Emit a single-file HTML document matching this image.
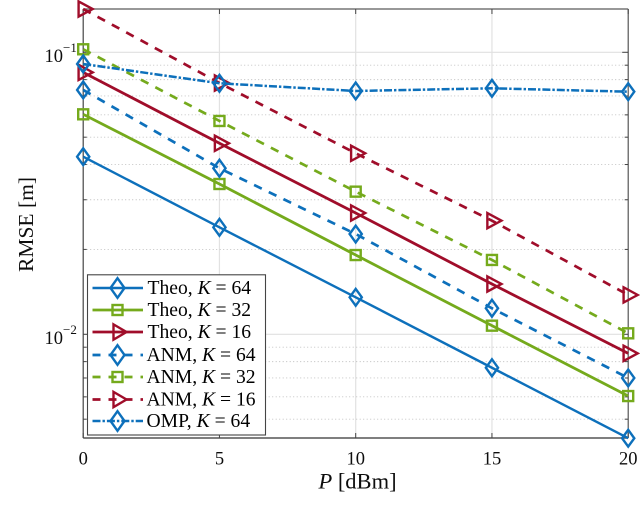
<!DOCTYPE html>
<html>
<head>
<meta charset="utf-8">
<style>
html,body{margin:0;padding:0;background:#fff;width:640px;height:519px;overflow:hidden}
svg{display:block;font-family:"Liberation Serif",serif;fill:#111}
text{stroke:none}
</style>
</head>
<body>
<svg id="chart" width="640" height="519" viewBox="0 0 640 519" xmlns="http://www.w3.org/2000/svg">
<defs><filter id="soft" x="-5%" y="-5%" width="110%" height="110%"><feGaussianBlur stdDeviation="0.22"/></filter></defs>
<g id="root" filter="url(#soft)"></g>
</svg>
<script>
const powerTicks = [0, 5, 10, 15, 20];
const powers = [0, 5, 10, 15, 20];
const theo64 = [0.04264, 0.02395, 0.01353, 0.00761, 0.00428];
const theo32 = [0.06027, 0.03412, 0.0191, 0.01073, 0.00604];
const theo16 = [0.0849, 0.04757, 0.02693, 0.01508, 0.00856];
const anm64 = [0.07352, 0.0388, 0.02268, 0.01237, 0.0070];
const anm32 = [0.1025, 0.05708, 0.03205, 0.01835, 0.01008];
const anm16 = [0.1424, 0.07783, 0.04384, 0.02529, 0.01379];
const omp64 = [0.0909, 0.07764, 0.07292, 0.07453, 0.0725];
const legendNames = ["Theo", "Theo", "Theo", "ANM", "ANM", "ANM", "OMP"];
const legendK = ["64", "32", "16", "64", "32", "16", "64"];
const yMajorExponents = [-1, -2];
const yMinorMultipliers = [2, 3, 4, 5, 6, 7, 8, 9];

const NS = "http://www.w3.org/2000/svg";
const root = document.getElementById("root");
const BLUE = "#0b6fbb", GREEN = "#74aa1e", RED = "#a0112c";
const left = 83.2, right = 628.2, top_ = 9, bottom = 438;

function xScale(v) { return left + (v / 20) * (right - left); }
function yScale(v) { return 52.3 + (-1 - Math.log10(v)) * 282; }

function el(tag, attrs, parent) {
  const e = document.createElementNS(NS, tag);
  for (const k in attrs) e.setAttribute(k, attrs[k]);
  (parent || root).appendChild(e);
  return e;
}

// grid
const grid = el("g", {});


powerTicks.forEach(t => {
  if (t > 0 && t < 20) el("line", {x1: xScale(t), x2: xScale(t), y1: top_, y2: bottom, stroke: "#e2e2e2", "stroke-width": 1.2}, grid);
});
const minorValues = [];
[-3, -2, -1].forEach(e => yMinorMultipliers.forEach(m => {
  const v = m * Math.pow(10, e);
  const y = yScale(v);
  if (y > top_ && y < bottom) minorValues.push(v);
}));
minorValues.forEach(v => {
  el("line", {x1: left, x2: right, y1: yScale(v), y2: yScale(v), stroke: "#bcbcbc", "stroke-width": 0.9, "stroke-dasharray": "1 2.5"}, grid);
});
yMajorExponents.forEach(e => {
  const y = yScale(Math.pow(10, e));
  el("line", {x1: left, x2: right, y1: y, y2: y, stroke: "#e0e0e0", "stroke-width": 1.2}, grid);
});

// axes box
const axes = el("g", {});


el("line", {x1: left, x2: right, y1: top_, y2: top_, stroke: "#777", "stroke-width": 1.4}, axes);
el("line", {x1: left, x2: right, y1: bottom, y2: bottom, stroke: "#555", "stroke-width": 1.4}, axes);
el("line", {x1: left, x2: left, y1: top_, y2: bottom, stroke: "#444", "stroke-width": 1.2}, axes);
el("line", {x1: right, x2: right, y1: top_, y2: bottom, stroke: "#555", "stroke-width": 1.2}, axes);

// ticks
powerTicks.forEach(t => {
  const x = xScale(t);
  el("line", {x1: x, x2: x, y1: bottom, y2: bottom - 5, stroke: "#444", "stroke-width": 1}, axes);
  el("line", {x1: x, x2: x, y1: top_, y2: top_ + 5, stroke: "#444", "stroke-width": 1}, axes);
  const lab = el("text", {x: x, y: 464.5, "text-anchor": "middle", "font-size": 18.5});
  
  
  lab.textContent = t;
});
minorValues.concat(yMajorExponents.map(e => Math.pow(10, e))).forEach(v => {
  const y = yScale(v);
  const isMajor = yMajorExponents.some(e => Math.abs(Math.pow(10, e) - v) < 1e-9);
  const len = isMajor ? 6 : 3.5;
  el("line", {x1: left, x2: left + len, y1: y, y2: y, stroke: "#444", "stroke-width": 1}, axes);
  el("line", {x1: right, x2: right - len, y1: y, y2: y, stroke: "#444", "stroke-width": 1}, axes);
});
yMajorExponents.forEach(e => {
  const y = yScale(Math.pow(10, e));
  const t = el("text", {x: 44.5, y: y + 9.5, "font-size": 18.5});
  
  
  t.textContent = "10";
  const s = el("tspan", {dy: -10, "font-size": 13}, t);
  s.textContent = "\u2212" + Math.abs(e);
});

// markers
function marker(kind, x, y, color, big, parent) {
  const common = {fill: "none", stroke: color, "stroke-width": 2.4, "stroke-linejoin": "miter"};
  if (kind === "d") {
    const w = big ? 7 : 6.1, h = big ? 9.8 : 8.4;
    el("polygon", Object.assign({points: `${x-w},${y} ${x},${y-h} ${x+w},${y} ${x},${y+h}`}, common), parent);
  } else if (kind === "s") {
    const s = 5;
    el("rect", Object.assign({x: x - s, y: y - s, width: 2 * s, height: 2 * s}, common), parent);
  } else {
    const w1 = big ? 4 : 4.6, w2 = big ? 9 : 9.5, h = 7.6;
    el("polygon", Object.assign({points: `${x-w1},${y-h} ${x+w2},${y} ${x-w1},${y+h}`}, common), parent);
  }
}

const DASH = "8.5 7.8", DASHDOT = "8 2 2.4 2";
const series = [
  {id: "theo-64", v: theo64, c: BLUE, m: "d", dash: null, w: 2.4},
  {id: "theo-32", v: theo32, c: GREEN, m: "s", dash: null, w: 2.8},
  {id: "theo-16", v: theo16, c: RED, m: "t", dash: null, w: 2.8},
  {id: "anm-64", v: anm64, c: BLUE, m: "d", dash: DASH, w: 2.7},
  {id: "anm-32", v: anm32, c: GREEN, m: "s", dash: DASH, w: 2.7},
  {id: "anm-16", v: anm16, c: RED, m: "t", dash: DASH, w: 2.7},
  {id: "omp-64", v: omp64, c: BLUE, m: "d", dash: DASHDOT, w: 2.5}
];
const drawOrder = [0, 1, 2, 3, 4, 5, 6];
drawOrder.forEach(i => {
  const s = series[i];
  const g = el("g", {});
  
  
  const pts = s.v.map((v, j) => xScale(powers[j]) + "," + yScale(v)).join(" ");
  const attrs = {points: pts, fill: "none", stroke: s.c, "stroke-width": s.w};
  if (s.dash) attrs["stroke-dasharray"] = s.dash;
  el("polyline", attrs, g);
  s.v.forEach((v, j) => marker(s.m, xScale(powers[j]), yScale(v), s.c, false, g));
});

// axis titles
const xTitle = el("text", {x: 357.5, y: 488.5, "text-anchor": "middle", "font-size": 22.5});


const xp = el("tspan", {"font-style": "italic"}, xTitle);
xp.textContent = "P";
const xu = el("tspan", {}, xTitle);
xu.textContent = " [dBm]";

const yTitle = el("text", {x: 0, y: 0, "text-anchor": "middle", "font-size": 21.5, transform: "translate(33 224.5) rotate(-90)"});


yTitle.textContent = "RMSE [m]";

// legend
const legend = el("g", {});


el("rect", {x: 87.5, y: 274.8, width: 178, height: 160.2, fill: "#fff", stroke: "#444", "stroke-width": 1.1}, legend);
const rowY = [288, 310, 332, 355, 377, 399.5, 421];
series.forEach((s, i) => {
  const g = el("g", {}, legend);
  
  
  const y = rowY[i];
  const attrs = {x1: 92.5, x2: 143, y1: y, y2: y, stroke: s.c, "stroke-width": s.w};
  if (s.dash) attrs["stroke-dasharray"] = s.dash === DASH ? "8 8" : DASHDOT;
  el("line", attrs, g);
  marker(s.m, 117.5, y, s.c, true, g);
  const tx = el("text", {x: i < 3 ? 147.5 : 146.5, y: y + 6, "font-size": 19.6, fill: "#000"}, g);
  const a = el("tspan", {}, tx);
  a.textContent = legendNames[i] + ", ";
  const b = el("tspan", {"font-style": "italic"}, tx);
  b.textContent = "K";
  const c = el("tspan", {}, tx);
  c.textContent = " = " + legendK[i];
});
</script>
</body>
</html>
